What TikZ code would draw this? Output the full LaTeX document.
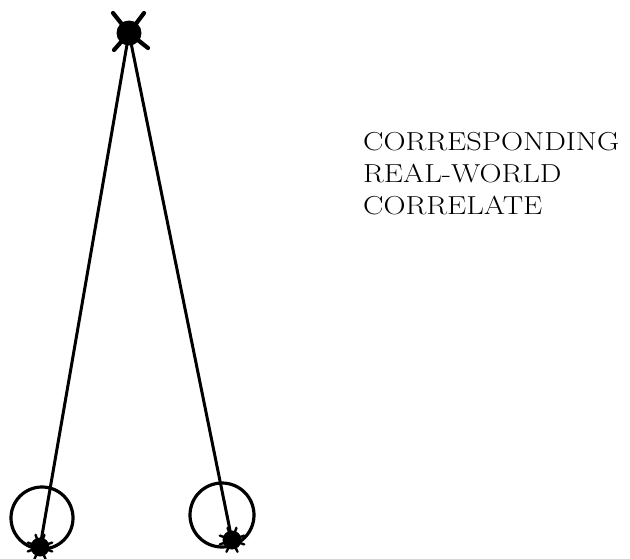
\documentclass[tikz,border=0pt]{standalone}
\usepackage{fontspec}
\begin{document}
\begin{tikzpicture}[x=1pt,y=-1pt,
  dotnode/.style={circle,fill=black,inner sep=0pt,minimum size=#1},
  spike/.style={line width=4.2pt,line cap=round},
  tether/.style={line width=3pt},
  ring/.style={line width=3.2pt},
  label/.style={font=\fontsize{26}{32}\selectfont,inner sep=0pt,anchor=base west}]
\useasboundingbox (0,0) rectangle (630,558);
% nodes
\node[dotnode=25pt] (top) at (129,33) {};
\node[dotnode=19pt] (bl) at (40,547) {};
\node[dotnode=19pt] (br) at (232,540) {};
\coordinate (blc) at (42,518);
\coordinate (brc) at (222,515);
% connectors
\draw[tether] (top.center) -- (bl.center);
\draw[tether] (top.center) -- (br.center);
% rings
\draw[ring] (blc) circle[radius=31pt];
\draw[ring] (brc) circle[radius=32pt];
% spikes on top node
\draw[spike] (top.center) -- ++(-16,-20);
\draw[spike] (top.center) -- ++(15,-20);
\draw[spike] (top.center) -- ++(-15,17);
\draw[spike] (top.center) -- ++(19,15);
% spikes on bottom nodes
\foreach \a in {20,65,115,160,200,250,290,340}{
  \draw[line width=2.4pt,line cap=round] (bl.center) -- ++(\a:13);
  \draw[line width=2.4pt,line cap=round] (br.center) -- ++(\a:13);
}
% label
\node[label] (t1) at (363,150) {\scalebox{1.175}[1]{CORRESPONDING}};
\node[label] (t2) at (363,182) {\scalebox{1.175}[1]{REAL-WORLD}};
\node[label] (t3) at (363,214) {\scalebox{1.175}[1]{CORRELATE}};
\end{tikzpicture}
\end{document}
